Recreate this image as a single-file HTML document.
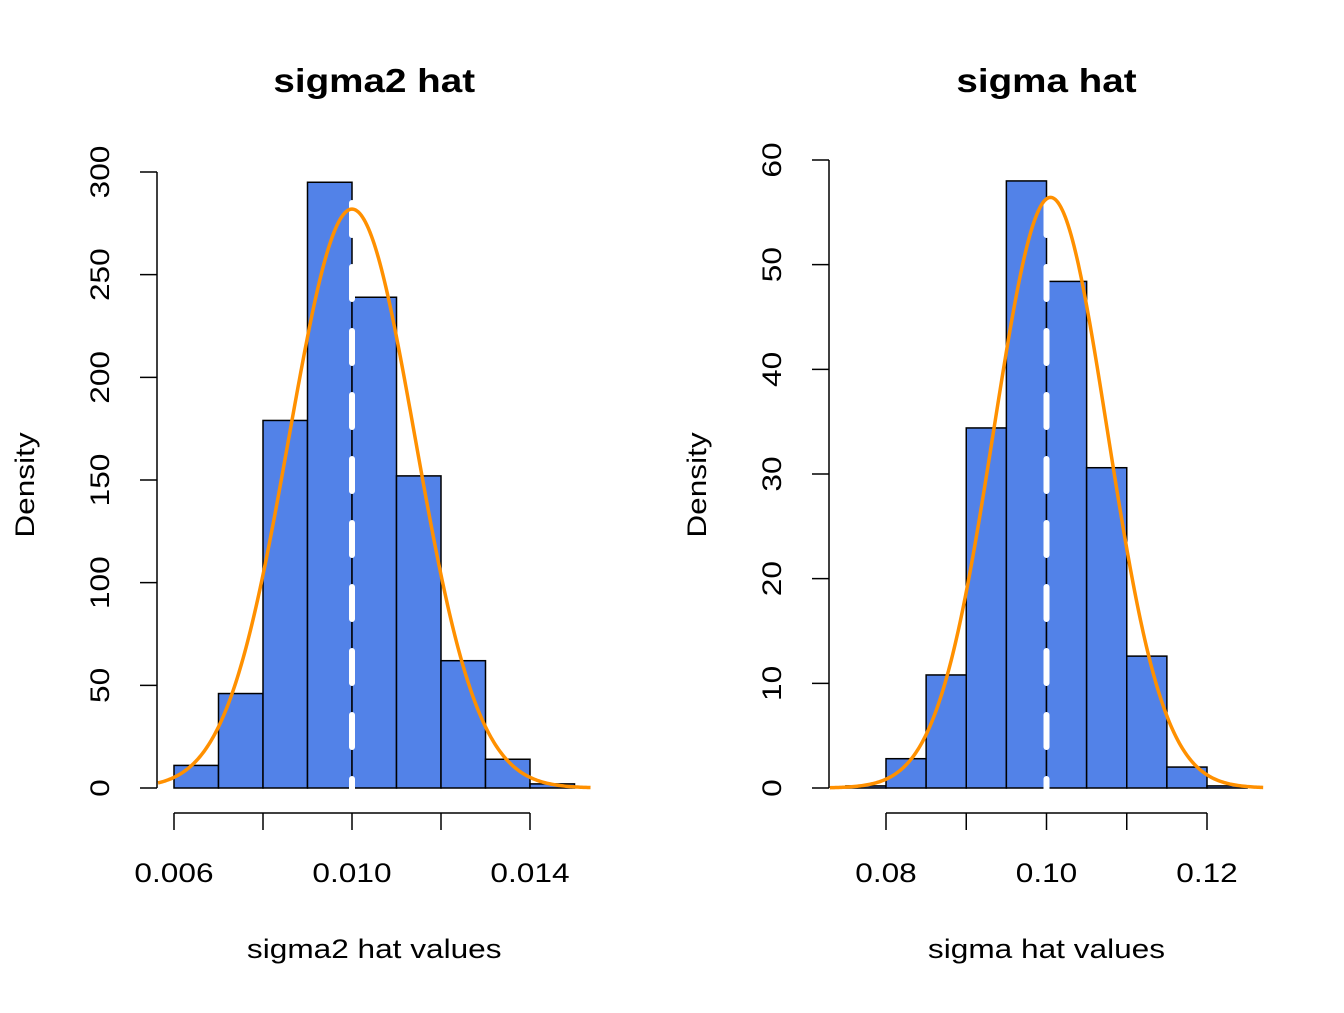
<!DOCTYPE html>
<html><head><meta charset="utf-8"><style>
body{margin:0;background:#fff}
svg text{font-family:"Liberation Sans",Arial,sans-serif;fill:#000}
</style></head><body>
<svg id="c" width="1344" height="1008" viewBox="0 0 1344 1008" xmlns="http://www.w3.org/2000/svg"></svg>
<script>
// Left panel data
const leftBreaks=[0.006,0.007,0.008,0.009,0.010,0.011,0.012,0.013,0.014,0.015];
const leftDensity=[11,46,179,295,239,152,62,14,2];
const leftYTicks=[0,50,100,150,200,250,300];
const leftXTicks=[0.006,0.008,0.010,0.012,0.014];
const leftXLabels=["0.006","","0.010","","0.014"];
const leftMean=0.010, leftSd=0.001415, leftTrue=0.010;
// Right panel data
const rightBreaks=[0.075,0.08,0.085,0.09,0.095,0.10,0.105,0.11,0.115,0.12,0.125];
const rightDensity=[0.2,2.8,10.8,34.4,58,48.4,30.6,12.6,2,0.2];
const rightYTicks=[0,10,20,30,40,50,60];
const rightXTicks=[0.08,0.09,0.10,0.11,0.12];
const rightXLabels=["0.08","","0.10","","0.12"];
const rightMean=0.1005, rightSd=0.00707, rightTrue=0.10;

const svg=document.getElementById('c');
const NS="http://www.w3.org/2000/svg";
const texts=[];
function mk(t,a,name,parent){const e=document.createElementNS(NS,t);for(const k in a)e.setAttribute(k,a[k]);


(parent||svg).appendChild(e);if(t==='text')texts.push(e);return e;}

function panel(o){
  const g=mk('g',{},o.id);
  const sx=v=>o.x0px+(v-o.x0)*o.xs, sy=v=>788-v*o.ys;
  const xmin=o.breaks[0],xmax=o.breaks[o.breaks.length-1],ext=(xmax-xmin)*0.04;
  o.dens.forEach((d,i)=>{
    mk('rect',{x:sx(o.breaks[i]),y:sy(d),width:sx(o.breaks[i+1])-sx(o.breaks[i]),height:d*o.ys,fill:'#5282e8',stroke:'#000','stroke-width':1.5},'histogram-bar',g);
  });
  const vx=sx(o.truth);
  mk('line',{x1:vx,x2:vx,y1:158,y2:812,stroke:'#fff','stroke-width':6,'stroke-linecap':'round','stroke-dasharray':'32 32','stroke-dashoffset':19},'true-value-line',g);
  let p='';const n=300,a=xmin-ext,b=xmax+ext;
  for(let i=0;i<=n;i++){const x=a+(b-a)*i/n;const y=Math.exp(-0.5*((x-o.mean)/o.sd)**2)/(o.sd*Math.sqrt(2*Math.PI));p+=(i?'L':'M')+sx(x).toFixed(2)+' '+sy(y).toFixed(2);}
  mk('path',{d:p,fill:'none',stroke:'#ff9000','stroke-width':3.5},'normal-density-curve',g);
  const yt=o.yticks,ax=o.yaxisX;
  mk('line',{x1:ax,x2:ax,y1:sy(yt[0]),y2:sy(yt[yt.length-1]),stroke:'#000','stroke-width':1.5},'y-axis-line',g);
  yt.forEach(v=>{
    mk('line',{x1:ax-17,x2:ax,y1:sy(v),y2:sy(v),stroke:'#000','stroke-width':1.5},'y-tick',g);
    const t=mk('text',{x:ax-57,y:sy(v),'font-size':27,'text-anchor':'middle',transform:`rotate(-90 ${ax-57} ${sy(v)})`,'dominant-baseline':'central'},'y-tick-label',g);t.textContent=v;
  });
  const xt=o.xticks;
  mk('line',{x1:sx(xt[0]),x2:sx(xt[xt.length-1]),y1:813,y2:813,stroke:'#000','stroke-width':1.5},'x-axis-line',g);
  xt.forEach((v,i)=>{
    mk('line',{x1:sx(v),x2:sx(v),y1:813,y2:830,stroke:'#000','stroke-width':1.5},'x-tick',g);
    if(o.xlabels[i]){const t=mk('text',{x:sx(v),y:882,'font-size':27,'text-anchor':'middle'},'x-tick-label',g);t.textContent=o.xlabels[i];}
  });
  const cx=(sx(xmin-ext)+sx(xmax+ext))/2;
  let t=mk('text',{x:cx,y:92,'font-size':33,'font-weight':'bold','text-anchor':'middle'},'chart-title',g);t.textContent=o.title;
  t=mk('text',{x:cx,y:958,'font-size':27,'text-anchor':'middle'},'x-axis-title',g);t.textContent=o.xtitle;
  t=mk('text',{x:o.ytitleX,y:485,'font-size':27,'text-anchor':'middle',transform:`rotate(-90 ${o.ytitleX} 485)`},'y-axis-title',g);t.textContent='Density';
}
panel({id:'sigma2-panel',breaks:leftBreaks,dens:leftDensity,yticks:leftYTicks,xticks:leftXTicks,xlabels:leftXLabels,
  mean:leftMean,sd:leftSd,truth:leftTrue,x0:0.006,x0px:174,xs:44500,ys:616/300,yaxisX:157,
  title:'sigma2 hat',xtitle:'sigma2 hat values',ytitleX:34});
panel({id:'sigma-panel',breaks:rightBreaks,dens:rightDensity,yticks:rightYTicks,xticks:rightXTicks,xlabels:rightXLabels,
  mean:rightMean,sd:rightSd,truth:rightTrue,x0:0.08,x0px:886,xs:8025,ys:628/60,yaxisX:829,
  title:'sigma hat',xtitle:'sigma hat values',ytitleX:706});
// widen glyphs to match Helvetica-like metrics
texts.forEach(t=>{const w=t.getComputedTextLength();t.setAttribute('textLength',(w*1.17).toFixed(1));t.setAttribute('lengthAdjust','spacingAndGlyphs');});
</script>
</body></html>
